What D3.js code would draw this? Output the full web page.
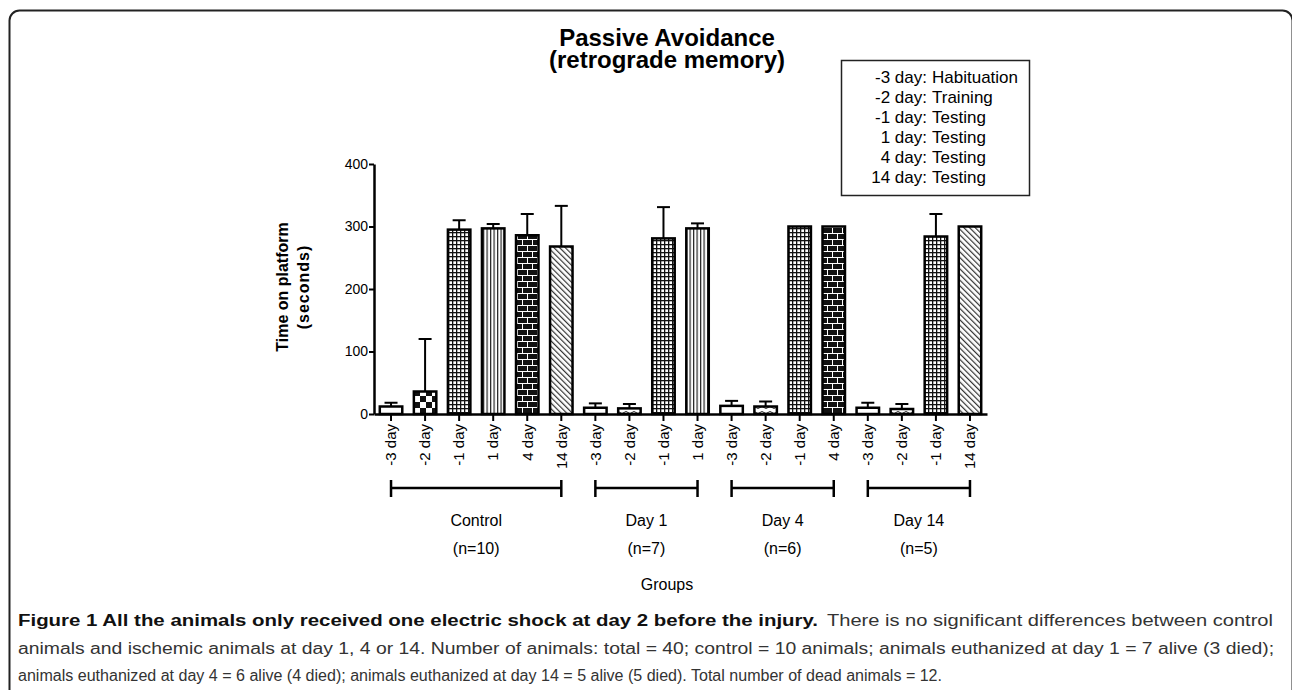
<!DOCTYPE html>
<meta charset="utf-8">
<head>
  <title>Passive Avoidance (retrograde memory)</title>
  <style>
    body { margin: 0; background: #fff; }
    text { font-family: 'Liberation Sans', Arial, sans-serif; }
  </style>
</head>

<body>
  <svg width="1292" height="690"></svg>

  <script src="https://cdnjs.cloudflare.com/ajax/libs/d3/7.8.5/d3.min.js"></script>
  <script>
// data
var groups = ['Control', 'Day 1', 'Day 4', 'Day 14'];
var groupN = ['(n=10)', '(n=7)', '(n=6)', '(n=5)'];
var barLabels = ['-3 day', '-2 day', '-1 day', '1 day', '4 day', '14 day',
                 '-3 day', '-2 day', '-1 day', '1 day',
                 '-3 day', '-2 day', '-1 day', '4 day',
                 '-3 day', '-2 day', '-1 day', '14 day'];
var barGroup = [0, 0, 0, 0, 0, 0, 1, 1, 1, 1, 2, 2, 2, 2, 3, 3, 3, 3];
var means = [12, 36, 295, 297, 286, 268, 10, 9, 281, 297, 13, 12, 300, 300, 10, 8, 284, 300];
var errs = [6, 84, 15, 7, 34, 65, 7, 7, 50, 8, 8, 8, 0, 0, 8, 8, 36, 0];
var barFill = ['blank', 'checker', 'grid', 'vlines', 'brick', 'diag',
               'blank', 'wave', 'grid', 'vlines',
               'blank', 'wave', 'grid', 'brick',
               'blank', 'wave', 'grid', 'diag'];
var yTicks = [0, 100, 200, 300, 400];
var legendDays = ['-3 day', '-2 day', '-1 day', '1 day', '4 day', '14 day'];
var legendWhat = ['Habituation', 'Training', 'Testing', 'Testing', 'Testing', 'Testing'];

var svg = d3.select('svg');

// outer frame
svg.append('rect')
  .attr('x', 9.5).attr('y', 10.5)
  .attr('width', 1283).attr('height', 720)
  .attr('rx', 10).attr('ry', 10)
  .attr('fill', 'none')
  .attr('stroke', '#222')
  .attr('stroke-width', 2);

// fill patterns
var defs = svg.append('defs');

var p = defs.append('pattern').attr('id', 'grid').attr('patternUnits', 'userSpaceOnUse')
  .attr('width', 4).attr('height', 4);
p.append('rect').attr('width', 4).attr('height', 4).attr('fill', '#fff');
p.append('rect').attr('width', 4).attr('height', 1.3).attr('fill', '#111');
p.append('rect').attr('width', 1.3).attr('height', 4).attr('fill', '#111');

p = defs.append('pattern').attr('id', 'vlines').attr('patternUnits', 'userSpaceOnUse')
  .attr('width', 3.5).attr('height', 4);
p.append('rect').attr('width', 3.5).attr('height', 4).attr('fill', '#fff');
p.append('rect').attr('width', 1.2).attr('height', 4).attr('fill', '#222');

p = defs.append('pattern').attr('id', 'brick').attr('patternUnits', 'userSpaceOnUse')
  .attr('width', 10).attr('height', 12);
p.append('rect').attr('width', 10).attr('height', 12).attr('fill', '#111');
p.append('rect').attr('y', 5).attr('width', 10).attr('height', 1).attr('fill', '#fff');
p.append('rect').attr('y', 11).attr('width', 10).attr('height', 1).attr('fill', '#fff');
p.append('rect').attr('x', 2).attr('width', 1).attr('height', 5).attr('fill', '#fff');
p.append('rect').attr('x', 7).attr('y', 6).attr('width', 1).attr('height', 5).attr('fill', '#fff');

p = defs.append('pattern').attr('id', 'diag').attr('patternUnits', 'userSpaceOnUse')
  .attr('width', 4).attr('height', 4).attr('patternTransform', 'rotate(-45)');
p.append('rect').attr('width', 4).attr('height', 4).attr('fill', '#fff');
p.append('rect').attr('width', 1.2).attr('height', 4).attr('fill', '#333');

p = defs.append('pattern').attr('id', 'checker').attr('patternUnits', 'userSpaceOnUse')
  .attr('width', 12).attr('height', 12);
p.append('rect').attr('width', 12).attr('height', 12).attr('fill', '#fff');
p.append('rect').attr('width', 6).attr('height', 6).attr('fill', '#111');
p.append('rect').attr('x', 6).attr('y', 6).attr('width', 6).attr('height', 6).attr('fill', '#111');

p = defs.append('pattern').attr('id', 'wave').attr('patternUnits', 'userSpaceOnUse')
  .attr('width', 8).attr('height', 5);
p.append('rect').attr('width', 8).attr('height', 5).attr('fill', '#fff');
p.append('path').attr('d', 'M0,2.5 Q2,0.5 4,2.5 T8,2.5')
  .attr('fill', 'none').attr('stroke', '#222').attr('stroke-width', 1);

// title, two lines in one text
var title = svg.append('text')
  .attr('text-anchor', 'middle')
  .style('font-size', '24px').style('font-weight', 'bold');
title.append('tspan').attr('x', 667).attr('y', 46).text('Passive Avoidance');
title.append('tspan').attr('x', 667).attr('y', 68).text('(retrograde memory)');

// legend box
svg.append('rect')
  .attr('x', 841.5).attr('y', 60.5)
  .attr('width', 188).attr('height', 135)
  .attr('fill', '#fff').attr('stroke', '#222').attr('stroke-width', 1.5);

var leg = svg.append('g').selectAll('text')
  .data(legendDays)
  .enter()
  .append('text')
  .attr('y', function(d, i) { return 83 + i * 20; })
  .style('font-size', '17px');
leg.append('tspan')
  .attr('x', 927)
  .attr('text-anchor', 'end')
  .text(function(d) { return d + ':'; });
leg.append('tspan')
  .attr('x', 932)
  .attr('text-anchor', 'start')
  .text(function(d, i) { return legendWhat[i]; });

// scales
var x = d3.scaleBand()
  .domain(d3.range(means.length))
  .range([374, 987])
  .paddingInner(0.34)
  .paddingOuter(0.17);

var y = d3.scaleLinear().domain([0, 400]).range([414, 164]);

// bars
svg.append('g')
  .selectAll('rect')
  .data(means)
  .enter()
  .append('rect')
  .attr('x', function(d, i) { return x(i); })
  .attr('y', function(d) { return y(d); })
  .attr('width', x.bandwidth())
  .attr('height', function(d) { return y(0) - y(d); })
  .attr('fill', function(d, i) {
    return barFill[i] === 'blank' ? '#fff' : 'url(#' + barFill[i] + ')';
  })
  .attr('stroke', '#000')
  .attr('stroke-width', 2.5);

// error bars (upper only)
var errG = svg.append('g');
means.forEach(function(m, i) {
  if (!errs[i]) return;
  var cx = x(i) + x.bandwidth() / 2;
  errG.append('line')
    .attr('x1', cx).attr('x2', cx)
    .attr('y1', y(m)).attr('y2', y(m + errs[i]))
    .attr('stroke', '#000').attr('stroke-width', 2);
  errG.append('line')
    .attr('x1', cx - 6.5).attr('x2', cx + 6.5)
    .attr('y1', y(m + errs[i])).attr('y2', y(m + errs[i]))
    .attr('stroke', '#000').attr('stroke-width', 2);
});

// y axis
var yAxis = svg.append('g')
  .attr('transform', 'translate(374,0)')
  .call(d3.axisLeft(y).tickValues(yTicks).tickSize(5).tickSizeOuter(0));
yAxis.select('.domain').attr('stroke-width', 2.5);
yAxis.selectAll('.tick line').attr('stroke-width', 2);
yAxis.selectAll('.tick text')
  .attr('x', -6)
  .style('font-size', '14px')
  .style('font-family', "'Liberation Sans', Arial, sans-serif")
  .attr('fill', '#000');

// x axis
var xAxis = svg.append('g')
  .attr('transform', 'translate(0,414)')
  .call(d3.axisBottom(x).tickSize(7).tickSizeOuter(0)
    .tickFormat(function(i) { return barLabels[i]; }));
xAxis.select('.domain').attr('stroke-width', 2.5);
xAxis.selectAll('.tick line').attr('stroke-width', 2);
xAxis.selectAll('.tick text')
  .attr('transform', 'rotate(-90)')
  .attr('x', -10)
  .attr('y', 0)
  .attr('dy', '0.35em')
  .style('text-anchor', 'end')
  .style('font-size', '15px')
  .style('font-family', "'Liberation Sans', Arial, sans-serif")
  .attr('fill', '#000');

// y axis title
svg.append('text')
  .attr('transform', 'translate(288,287) rotate(-90)')
  .attr('text-anchor', 'middle')
  .style('font-size', '16px').style('font-weight', 'bold')
  .text('Time on platform');
svg.append('text')
  .attr('transform', 'translate(309,287) rotate(-90)')
  .attr('text-anchor', 'middle')
  .style('font-size', '16px').style('font-weight', 'bold')
  .style('letter-spacing', '1px')
  .text('(seconds)');

// group brackets
var brackets = svg.append('g');
groups.forEach(function(g, gi) {
  var idx = d3.range(means.length).filter(function(i) { return barGroup[i] === gi; });
  var x0 = x(idx[0]) + x.bandwidth() / 2;
  var x1 = x(idx[idx.length - 1]) + x.bandwidth() / 2;
  var cx = (x0 + x1) / 2;
  brackets.append('line')
    .attr('x1', x0).attr('x2', x1).attr('y1', 488).attr('y2', 488)
    .attr('stroke', '#000').attr('stroke-width', 2.5);
  [x0, x1].forEach(function(xx) {
    brackets.append('line')
      .attr('x1', xx).attr('x2', xx).attr('y1', 480).attr('y2', 497)
      .attr('stroke', '#000').attr('stroke-width', 2.5);
  });
  brackets.append('text')
    .attr('x', cx).attr('y', 526)
    .attr('text-anchor', 'middle')
    .style('font-size', '16px')
    .text(g);
  brackets.append('text')
    .attr('x', cx).attr('y', 554)
    .attr('text-anchor', 'middle')
    .style('font-size', '16px')
    .text(groupN[gi]);
});

svg.append('text')
  .attr('x', 667).attr('y', 590)
  .attr('text-anchor', 'middle')
  .style('font-size', '16px')
  .text('Groups');

// caption
var capFont = "'Liberation Sans', Arial, sans-serif";
svg.append('text')
  .attr('x', 18).attr('y', 626)
  .attr('textLength', 800).attr('lengthAdjust', 'spacingAndGlyphs')
  .style('font-family', capFont).style('font-size', '16px').style('font-weight', 'bold')
  .attr('fill', '#111')
  .text('Figure 1 All the animals only received one electric shock at day 2 before the injury.');
svg.append('text')
  .attr('x', 827).attr('y', 626)
  .attr('textLength', 446).attr('lengthAdjust', 'spacingAndGlyphs')
  .style('font-family', capFont).style('font-size', '16px')
  .attr('fill', '#333')
  .text('There is no significant differences between control');
svg.append('text')
  .attr('x', 18).attr('y', 654)
  .attr('textLength', 1256).attr('lengthAdjust', 'spacingAndGlyphs')
  .style('font-family', capFont).style('font-size', '16px')
  .attr('fill', '#333')
  .text('animals and ischemic animals at day 1, 4 or 14. Number of animals: total = 40; control = 10 animals; animals euthanized at day 1 = 7 alive (3 died);');
svg.append('text')
  .attr('x', 18).attr('y', 681)
  .attr('textLength', 924).attr('lengthAdjust', 'spacingAndGlyphs')
  .style('font-family', capFont).style('font-size', '16px')
  .attr('fill', '#333')
  .text('animals euthanized at day 4 = 6 alive (4 died); animals euthanized at day 14 = 5 alive (5 died). Total number of dead animals = 12.');
  </script>
</body>
</html>
